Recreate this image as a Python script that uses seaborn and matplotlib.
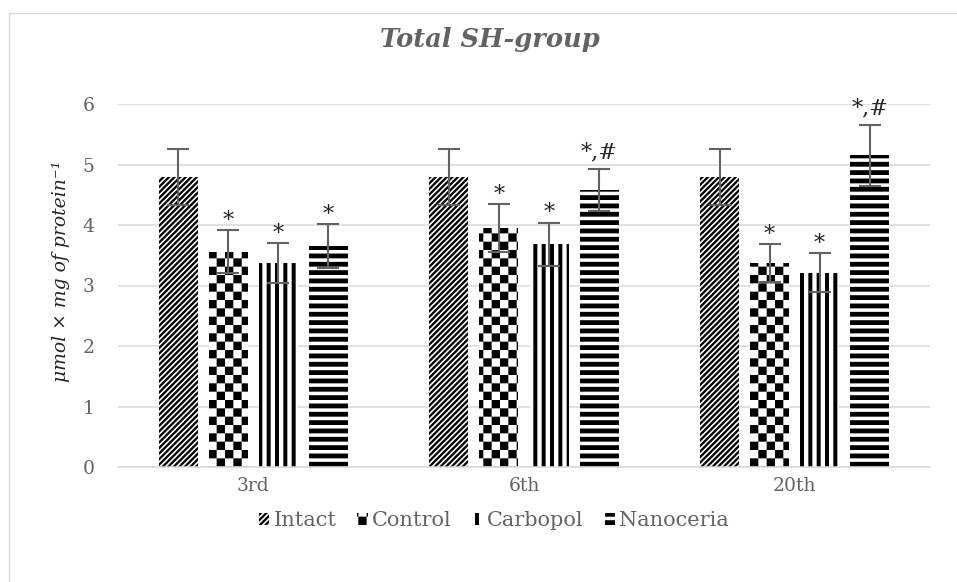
import numpy as np
import pandas as pd
import matplotlib
matplotlib.use("Agg")
import matplotlib.pyplot as plt
import matplotlib.hatch as mhatch
from matplotlib.path import Path
from matplotlib.patches import Patch, Rectangle
import seaborn as sns

# ---------------- data ----------------
days = ["3rd", "6th", "20th"]
groups = ["Intact", "Control", "Carbopol", "Nanoceria"]
intact = [4.79, 4.79, 4.79]
control = [3.56, 3.95, 3.37]
carbopol = [3.37, 3.68, 3.21]
nanoceria = [3.65, 4.58, 5.15]
intact_err = [0.46, 0.46, 0.46]
control_err = [0.35, 0.39, 0.31]
carbopol_err = [0.33, 0.36, 0.32]
nanoceria_err = [0.36, 0.35, 0.51]
intact_sig = ["", "", ""]
control_sig = ["*", "*", "*"]
carbopol_sig = ["*", "*", "*"]
nanoceria_sig = ["*", "*,#", "*,#"]
title = "Total SH-group"
ylabel = "μmol × mg of protein⁻¹"
yticks = [0, 1, 2, 3, 4, 5, 6]

# ---------------- custom filled hatch patterns ----------------
class _FilledPolys(mhatch.HatchPatternBase):
    char = None

    def __init__(self, hatch, density):
        self.polys = self.make_polys() if hatch.count(self.char) > 0 else []
        self.num_vertices = 5 * len(self.polys)

    def make_polys(self):
        return []

    def set_vertices_and_codes(self, vertices, codes):
        k = 0
        for poly in self.polys:
            vertices[k:k + 4] = poly
            vertices[k + 4] = poly[0]
            codes[k] = Path.MOVETO
            codes[k + 1:k + 4] = Path.LINETO
            codes[k + 4] = Path.CLOSEPOLY
            k += 5


class HBands(_FilledPolys):
    char = "-"

    def make_polys(self):
        out = []
        for i in range(12):
            y0 = i / 12
            h = 0.048
            out.append([(-0.01, y0), (1.01, y0), (1.01, y0 + h), (-0.01, y0 + h)])
        return out


class VBands(_FilledPolys):
    char = "|"

    def make_polys(self):
        out = []
        for i in range(12):
            x0 = i / 12
            w = 0.040
            out.append([(x0, -0.01), (x0 + w, -0.01), (x0 + w, 1.01), (x0, 1.01)])
        return out


class Diag(_FilledPolys):
    char = "/"

    def make_polys(self):
        out = []
        p = 1 / 18
        w = p * 0.58
        for i in range(-20, 20):
            c = i * p
            out.append([(c, 0.0), (c + w, 0.0), (c + w + 1, 1.0), (c + 1, 1.0)])
        return out


class Checker(_FilledPolys):
    char = "+"

    def make_polys(self):
        out = []
        s = 1 / 12
        for i in range(12):
            for j in range(12):
                if (i + j) % 2 == 0:
                    x0, y0 = i * s, j * s
                    out.append([(x0, y0), (x0 + s, y0), (x0 + s, y0 + s), (x0, y0 + s)])
        return out


mhatch._hatch_types = [HBands, VBands, Diag, Checker]

# ---------------- style ----------------
sns.set_theme(style="white")
plt.rcParams["font.family"] = ["DejaVu Serif"]
plt.rcParams["hatch.linewidth"] = 0.01
plt.rcParams["hatch.color"] = "black"

hatches = ["/", "+", "|", "-"]
values = [intact, control, carbopol, nanoceria]
errors = [intact_err, control_err, carbopol_err, nanoceria_err]
sigs = [intact_sig, control_sig, carbopol_sig, nanoceria_sig]

df = pd.DataFrame({
    "day": np.tile(days, len(groups)),
    "group": np.repeat(groups, len(days)),
    "value": np.concatenate(values),
})

fig = plt.figure(figsize=(9.57, 5.82), dpi=100)
ax = fig.add_axes([118 / 957, 115 / 582, 812 / 957, 363 / 582])

sns.barplot(data=df, x="day", y="value", hue="group", order=days, hue_order=groups,
            palette=["white"] * 4, errorbar=None, width=0.74, gap=0.22,
            edgecolor="black", linewidth=0, legend=False, ax=ax)

grey = "#636363"
for cont, h, errs, sg in zip(ax.containers, hatches, errors, sigs):
    xs, tops = [], []
    for bar in cont:
        bar.set_hatch(h)
        bar.set_edgecolor("black")
        bar.set_linewidth(0)
        xs.append(bar.get_x() + bar.get_width() / 2)
        tops.append(bar.get_height())
    ax.errorbar(xs, tops, yerr=errs, fmt="none", ecolor="#626262",
                elinewidth=1.5, capsize=8, capthick=1.5, zorder=5)
    for x, t, e, s in zip(xs, tops, errs, sg):
        if s:
            dy = -1 if len(s) == 1 else 4
            ax.annotate(s, xy=(x, t + e), xytext=(0, dy), textcoords="offset points",
                        ha="center", va="bottom", fontsize=16, color="#262626",
                        annotation_clip=False)

ax.set_ylim(0, 6)
ax.set_yticks(yticks)
ax.set_xlim(-0.5, 2.5)
ax.grid(axis="y", color="#d9d9d9", linewidth=1.1)
ax.set_axisbelow(True)
for side in ["left", "right", "top"]:
    ax.spines[side].set_visible(False)
ax.spines["bottom"].set_color("#d9d9d9")
ax.spines["bottom"].set_linewidth(1.1)
ax.tick_params(axis="both", length=0, labelsize=13.5, labelcolor=grey)
ax.tick_params(axis="y", pad=17)
ax.tick_params(axis="x", pad=7)
ax.set_xlabel("")
ax.set_ylabel(ylabel, fontsize=13.5, style="italic", color="#262626")
ax.yaxis.set_label_coords(-0.059, 0.54)

fig.text(490 / 957, 1 - 40 / 582, title, ha="center", va="center",
         fontsize=18.5, fontweight="bold", style="italic", color=grey)

handles = [Patch(facecolor="white", edgecolor="black", linewidth=0, hatch=h, label=g)
           for h, g in zip(hatches, groups)]
leg = fig.legend(handles=handles, loc="center", bbox_to_anchor=(494 / 957, 1 - 521 / 582),
                 ncol=4, frameon=False, fontsize=15, handlelength=0.5, handleheight=0.5,
                 handletextpad=0.2, columnspacing=1.0, labelcolor=grey)

fig.add_artist(Rectangle((9 / 957, -0.1), 1.2, 1 - 13 / 582 + 0.1, transform=fig.transFigure,
                         fill=False, edgecolor="#d9d9d9", linewidth=1.0))

fig.savefig("out.png", dpi=100)
